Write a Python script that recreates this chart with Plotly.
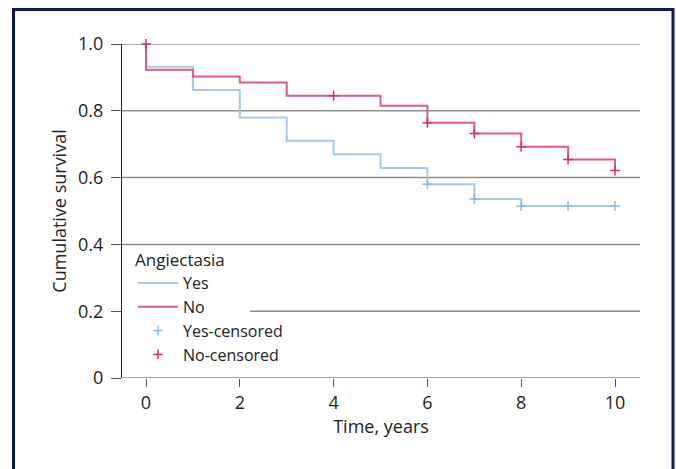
import plotly.graph_objects as go

# Data
time_points = [0, 0, 1, 2, 3, 4, 5, 6, 7, 8, 9, 10]
yes_surv = [1.0, 0.932, 0.862, 0.780, 0.710, 0.670, 0.629, 0.580, 0.536, 0.515, 0.515, 0.515]
no_surv = [1.0, 0.923, 0.903, 0.885, 0.845, 0.845, 0.815, 0.764, 0.732, 0.692, 0.654, 0.621]

yes_cens_t = [6, 7, 8, 9, 10]
yes_cens_s = [0.580, 0.536, 0.515, 0.515, 0.515]
no_cens_t = [0, 4, 6, 7, 8, 9, 10]
no_cens_s = [1.0, 0.845, 0.764, 0.732, 0.692, 0.654, 0.621]

y_ticks = [0, 0.2, 0.4, 0.6, 0.8, 1.0]
y_tick_text = ["0", "0.2", "0.4", "0.6", "0.8", "1.0"]
x_ticks = [0, 2, 4, 6, 8, 10]

BLUE_LINE = "#a7c9ec"
RED_LINE = "#e25b7b"
BLUE_MK = "#8dbae6"
RED_MK = "#d8325a"
FONT = "Open Sans"
TXT = "#222222"

fig = go.Figure()
fig.add_trace(go.Scatter(x=time_points, y=yes_surv, mode="lines", line=dict(color=BLUE_LINE, width=2, shape="hv"),
                         name="Yes", cliponaxis=False))
fig.add_trace(go.Scatter(x=time_points, y=no_surv, mode="lines", line=dict(color=RED_LINE, width=2, shape="hv"),
                         name="No", cliponaxis=False))
fig.add_trace(go.Scatter(x=yes_cens_t, y=yes_cens_s, mode="markers",
                         marker=dict(symbol="cross-thin", size=7, line=dict(color=BLUE_MK, width=1.5)),
                         name="Yes-censored", cliponaxis=False))
fig.add_trace(go.Scatter(x=no_cens_t, y=no_cens_s, mode="markers",
                         marker=dict(symbol="cross-thin", size=7, line=dict(color=RED_MK, width=1.5)),
                         name="No-censored", cliponaxis=False))

L, R, T, B = 122, 36, 44, 91
W, H = 676, 469
pw, ph = W - L - R, H - T - B

shapes = []
for v in y_ticks:
    x0 = 0 if v != 0.2 else (250 - L) / pw
    shapes.append(dict(type="line", xref="paper", yref="y", x0=x0, x1=1, y0=v, y1=v,
                       line=dict(color="#8f8f8f", width=1.5), layer="below"))
# outer frame
shapes.append(dict(type="rect", xref="paper", yref="paper",
                   x0=(13.5 - L) / pw, x1=(673 - L) / pw,
                   y0=-0.4, y1=(ph + T - 9.5) / ph,
                   line=dict(color="#0f1a52", width=3), layer="below"))

fig.update_layout(
    width=W, height=H,
    margin=dict(l=L, r=R, t=T, b=B, pad=0),
    paper_bgcolor="white", plot_bgcolor="white",
    font=dict(family=FONT, size=18, color=TXT),
    shapes=shapes,
    showlegend=True,
    legend=dict(
        title=dict(text="Angiectasia", font=dict(size=17, color=TXT)),
        x=(133 - L) / pw, y=(H - B - 244) / ph, xanchor="left", yanchor="top",
        bgcolor="rgba(0,0,0,0)", font=dict(size=16, color=TXT),
        itemwidth=40, tracegroupgap=0,
    ),
    xaxis=dict(
        range=[(L - 146) / 46.9, (L + pw - 146) / 46.9],
        tickmode="array", tickvals=x_ticks,
        showgrid=False, zeroline=False, showline=False,
        ticks="outside", ticklen=8, tickcolor="#555555", tickwidth=1.2,
        tickfont=dict(size=18, color=TXT),
        title=dict(text="Time, years", font=dict(size=18, color=TXT), standoff=6),
    ),
    yaxis=dict(
        range=[0, 1], tickmode="array", tickvals=y_ticks, ticktext=y_tick_text,
        showgrid=False, zeroline=False, showline=True, linecolor=TXT, linewidth=1.2,
        ticks="outside", ticklen=10, tickcolor="#555555", tickwidth=1.2,
        ticklabelstandoff=4,
        tickfont=dict(size=18, color=TXT),
        title=dict(text="Cumulative survival", font=dict(size=18, color=TXT), standoff=6),
    ),
)

fig.write_html("out.html", config={"displayModeBar": False},
               post_script="document.body.style.margin='0';")
